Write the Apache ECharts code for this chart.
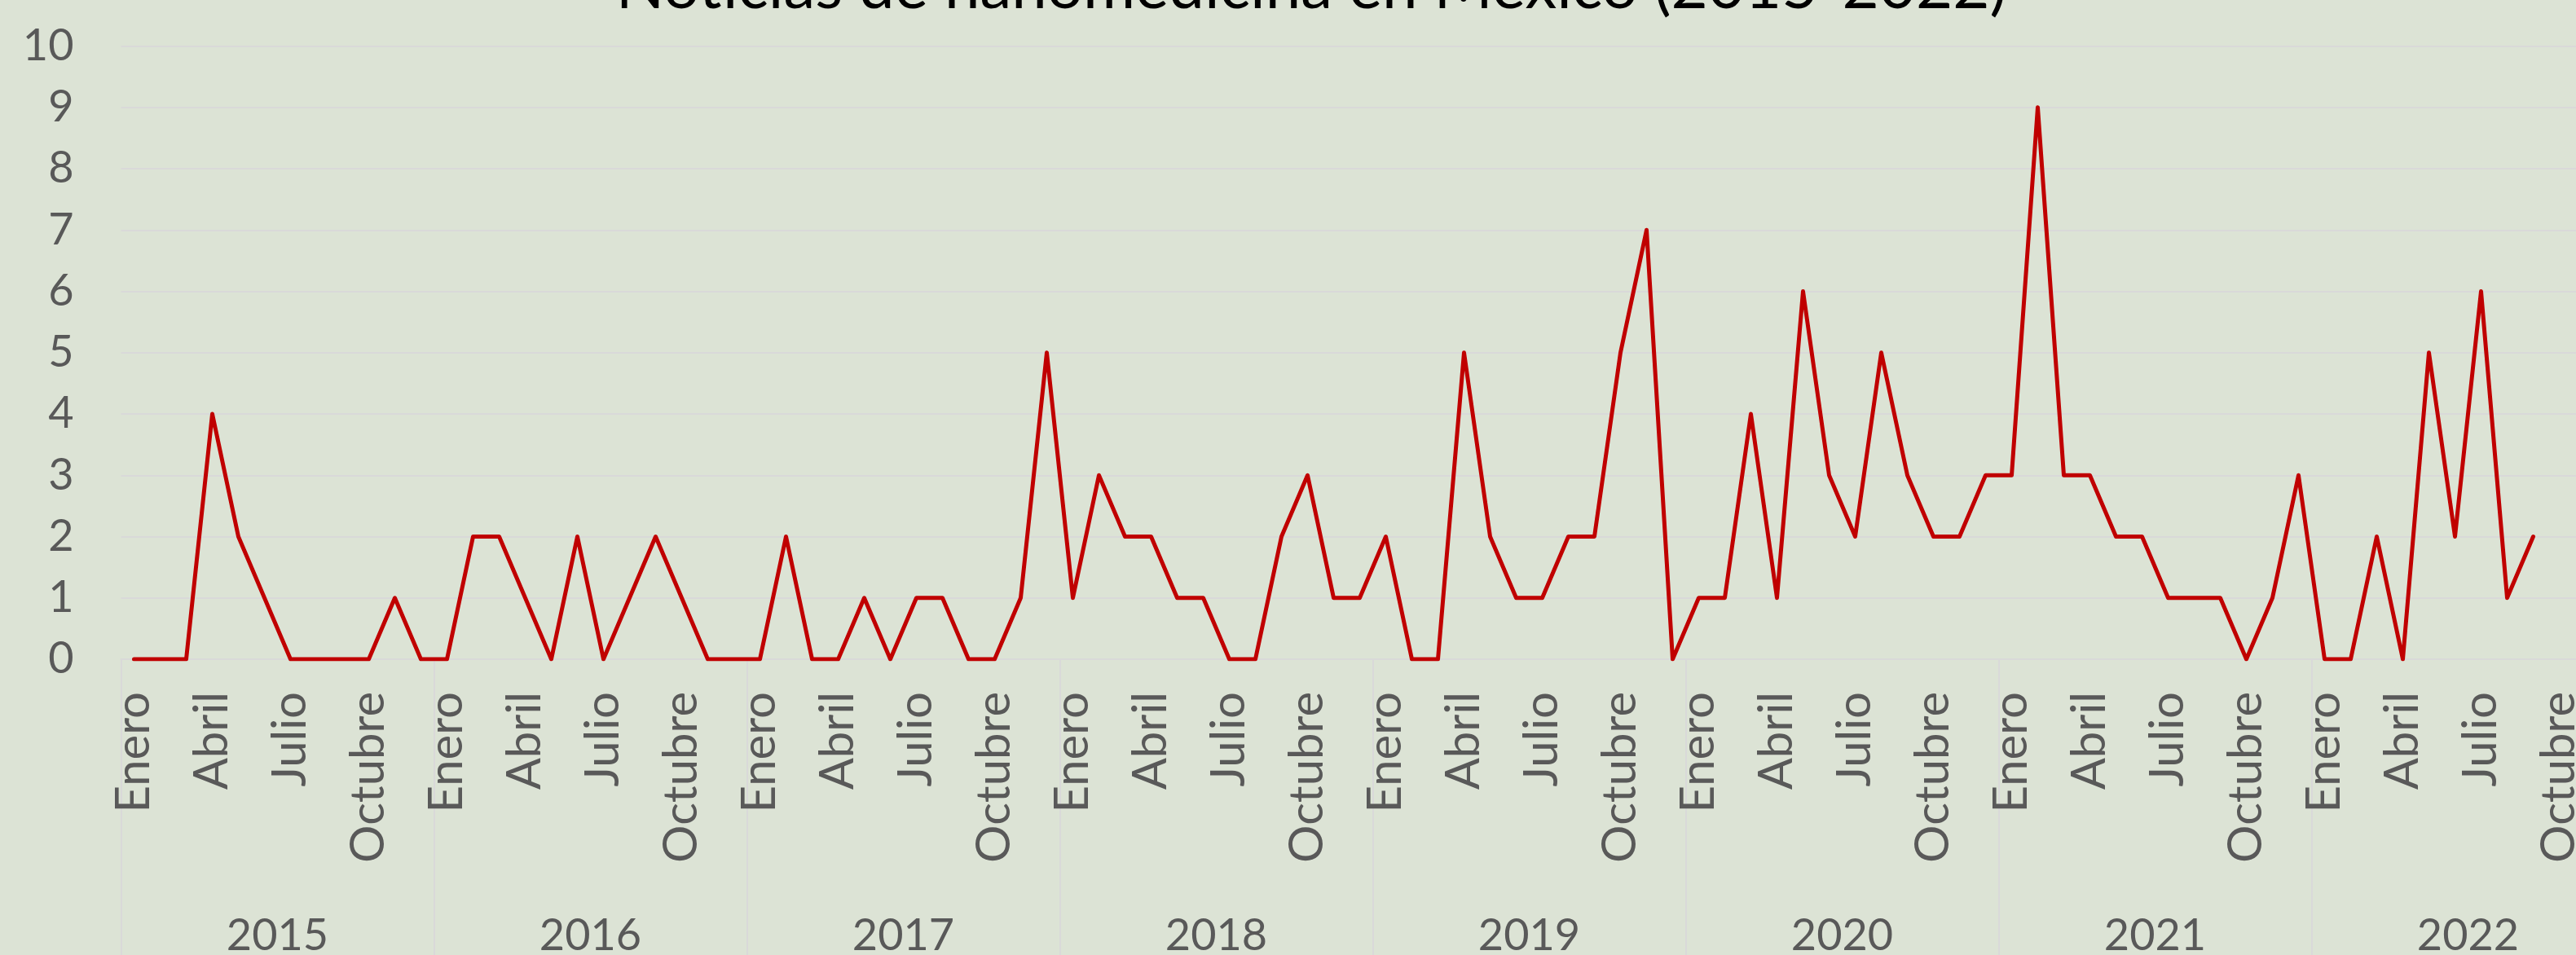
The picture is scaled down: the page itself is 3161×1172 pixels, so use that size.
<!DOCTYPE html>
<html>
<head>
<meta charset="utf-8">
<script src="https://cdn.jsdelivr.net/npm/echarts@6/dist/echarts.min.js"></script>
<style>
  html, body { margin: 0; padding: 0; background: #DCE3D5; }
  #chart { width: 3161px; height: 1172px; }
</style>
</head>
<body>
<div id="chart"></div>
<script>
const years = ['2015', '2016', '2017', '2018', '2019', '2020', '2021', '2022'];
const monthNames = ['Enero', 'Febrero', 'Marzo', 'Abril', 'Mayo', 'Junio', 'Julio', 'Agosto', 'Septiembre', 'Octubre', 'Noviembre', 'Diciembre'];
const yTicks = [0, 1, 2, 3, 4, 5, 6, 7, 8, 9, 10];

const v2015 = [0, 0, 0, 4, 2, 1, 0, 0, 0, 0, 1, 0];
const v2016 = [0, 2, 2, 1, 0, 2, 0, 1, 2, 1, 0, 0];
const v2017 = [0, 2, 0, 0, 1, 0, 1, 1, 0, 0, 1, 5];
const v2018 = [1, 3, 2, 2, 1, 1, 0, 0, 2, 3, 1, 1];
const v2019 = [2, 0, 0, 5, 2, 1, 1, 2, 2, 5, 7, 0];
const v2020 = [1, 1, 4, 1, 6, 3, 2, 5, 3, 2, 2, 3];
const v2021 = [3, 9, 3, 3, 2, 2, 1, 1, 1, 0, 1, 3];
const v2022 = [0, 0, 2, 0, 5, 2, 6, 1, 2, null, null, null];

const yearValues = [v2015, v2016, v2017, v2018, v2019, v2020, v2021, v2022];
const months = [];
const values = [];
years.forEach((y, i) => {
  monthNames.forEach((m, j) => {
    months.push(m);
    values.push(yearValues[i][j]);
  });
});

const FONT = 'Lato';
const chart = echarts.init(document.getElementById('chart'), null, { renderer: 'canvas' });
chart.setOption({
  backgroundColor: '#DCE3D5',
  animation: false,
  title: {
    text: 'Noticias de nanomedicina en México (2015-2022)',
    left: 1604,
    top: -59,
    textAlign: 'center',
    textStyle: { fontFamily: FONT, fontSize: 78, fontWeight: 'normal', color: '#000000' }
  },
  grid: { left: 148.5, width: 3072, top: 56.5, bottom: 363, containLabel: false, outerBoundsMode: 'none' },
  xAxis: [
    {
      type: 'category',
      data: months,
      boundaryGap: true,
      position: 'bottom',
      axisLine: { show: true, lineStyle: { color: '#D9D9D9', width: 2 } },
      axisTick: { show: false },
      axisLabel: {
        interval: 2,
        rotate: 90,
        margin: 40,
        fontFamily: FONT,
        fontSize: 58,
        color: '#595959'
      },
      splitLine: { show: false }
    },
    {
      type: 'category',
      data: years,
      boundaryGap: true,
      position: 'bottom',
      axisLine: { show: false },
      axisTick: { show: true, interval: 0, length: 380, lineStyle: { color: '#D9D9D9', width: 2 } },
      axisLabel: {
        interval: 0,
        margin: 313,
        fontFamily: FONT,
        fontSize: 54,
        color: '#595959'
      },
      splitLine: { show: false }
    }
  ],
  yAxis: {
    type: 'value',
    min: yTicks[0],
    max: yTicks[yTicks.length - 1],
    interval: 1,
    axisLine: { show: false },
    axisTick: { show: false },
    axisLabel: { margin: 58, fontFamily: FONT, fontSize: 54, color: '#595959' },
    splitLine: { show: true, lineStyle: { color: '#D9D9D9', width: 2 } }
  },
  series: [
    {
      type: 'line',
      xAxisIndex: 0,
      data: values,
      showSymbol: false,
      symbol: 'none',
      connectNulls: false,
      lineStyle: { color: '#C00000', width: 5, join: 'round', cap: 'round' },
      itemStyle: { color: '#C00000' }
    }
  ]
});
</script>
</body>
</html>
